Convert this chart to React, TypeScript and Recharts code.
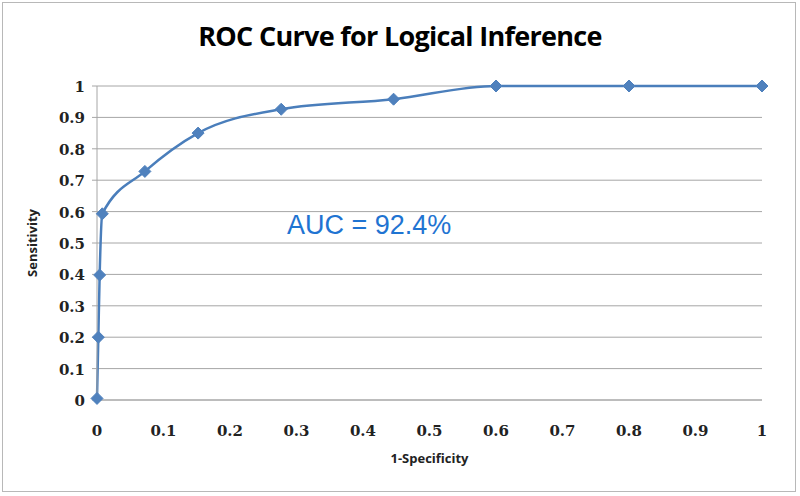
import React from "react";
import { LineChart, Line, XAxis, YAxis, CartesianGrid, Label } from "recharts";

const fpr = [0, 0.002, 0.004, 0.008, 0.072, 0.152, 0.277, 0.446, 0.6, 0.8, 1];
const tpr = [0.005, 0.2, 0.398, 0.593, 0.728, 0.85, 0.926, 0.958, 1, 1, 1];
const ticks = [0, 0.1, 0.2, 0.3, 0.4, 0.5, 0.6, 0.7, 0.8, 0.9, 1];

const data = fpr.map((x, i) => ({ x, y: tpr[i] }));

const Diamond = (props: any) => {
  const { cx, cy } = props;
  if (cx == null || cy == null) return null;
  const s = 6;
  return (
    <polygon
      points={`${cx},${cy - s} ${cx + s},${cy} ${cx},${cy + s} ${cx - s},${cy}`}
      fill="#4F81BD"
      stroke="#4F81BD"
    />
  );
};

const tickFont = "'DejaVu Serif', serif";

const XTick = (props: any) => {
  const { x, y, payload } = props;
  return (
    <text x={x} y={y + 28} textAnchor="middle" fontFamily={tickFont} fontWeight={700} fontSize={15} fill="#222">
      {String(payload.value)}
    </text>
  );
};

const YTick = (props: any) => {
  const { y, payload } = props;
  return (
    <text x={85} y={y + 6} textAnchor="end" fontFamily={tickFont} fontWeight={700} fontSize={15} fill="#222">
      {String(payload.value)}
    </text>
  );
};

export default function App() {
  return (
    <div style={{ position: "absolute", left: 0, top: 0, width: 800, height: 496, background: "#fff" }}>
      <div style={{ position: "absolute", left: 2, top: 2, width: 794, height: 490, border: "1px solid #b8b8b8", boxSizing: "border-box" }} />
      <div
        style={{
          position: "absolute",
          left: 0,
          top: 17,
          width: 800,
          textAlign: "center",
          fontFamily: "'Open Sans', sans-serif",
          fontWeight: 700,
          fontSize: 27,
          color: "#000",
          letterSpacing: -0.7,
        }}
      >
        ROC Curve for Logical Inference
      </div>
      <LineChart width={800} height={496} data={data} margin={{ top: 86, right: 38, bottom: 0, left: 0 }}>
        <CartesianGrid vertical={false} stroke="#a6a6a6" strokeWidth={1} />
        <XAxis
          type="number"
          dataKey="x"
          domain={[0, 1]}
          ticks={ticks}
          height={96}
          axisLine={{ stroke: "#a6a6a6" }}
          tickLine={false}
          tick={<XTick />}
        >
          <Label
            value="1-Specificity"
            position="insideTop"
            offset={54}
            style={{ fontFamily: "'Open Sans', sans-serif", fontWeight: 700, fontSize: 13, fill: "#222" }}
          />
        </XAxis>
        <YAxis
          type="number"
          domain={[0, 1]}
          ticks={ticks}
          width={97}
          axisLine={{ stroke: "#a6a6a6" }}
          tickLine={{ stroke: "#a6a6a6" }}
          tickSize={5}
          tick={<YTick />}
        >
          <Label
            value="Sensitivity"
            angle={-90}
            position="insideLeft"
            offset={32}
            style={{ textAnchor: "middle", fontFamily: "'Open Sans', sans-serif", fontWeight: 700, fontSize: 13, fill: "#222" }}
          />
        </YAxis>
        <Line
          type="monotone"
          dataKey="y"
          stroke="#4A7EBB"
          strokeWidth={2.5}
          dot={<Diamond />}
          activeDot={false}
          isAnimationActive={false}
        />
      </LineChart>
      <div
        style={{
          position: "absolute",
          left: 287,
          top: 210,
          fontFamily: "'Liberation Sans', Arial, sans-serif",
          fontSize: 27,
          color: "#1F74D2",
        }}
      >
        AUC = 92.4%
      </div>
    </div>
  );
}
